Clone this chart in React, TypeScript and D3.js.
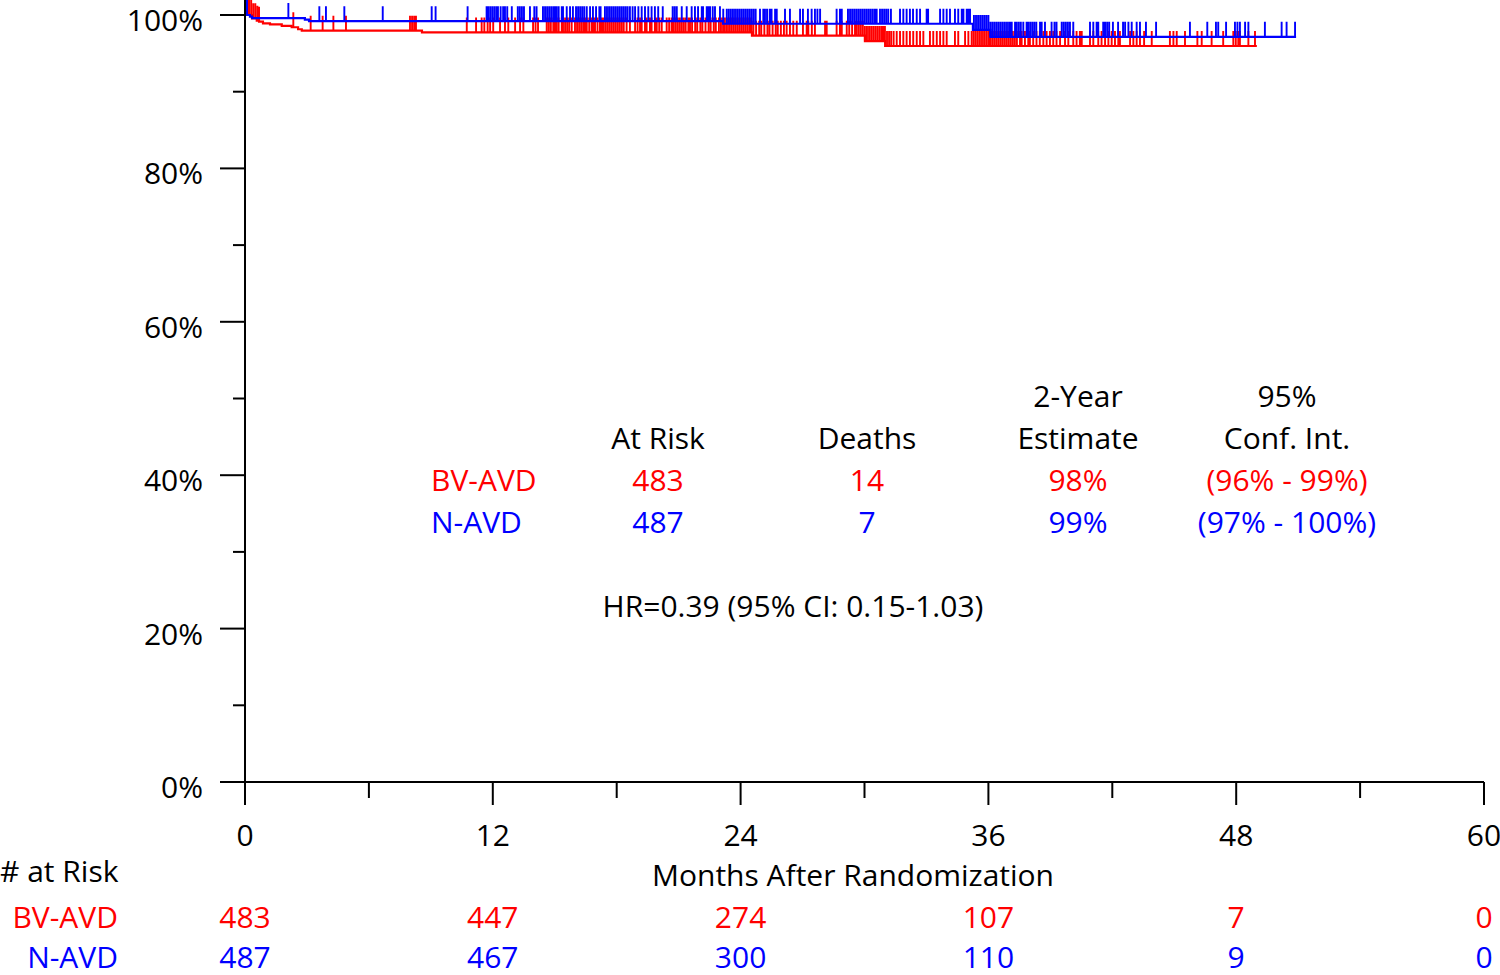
import React from "react";
import * as d3 from "d3";

// ---- Data ----
const redStepTimes = [0, 0.34, 0.57, 0.68, 0.87, 1.21, 1.78, 2.26, 2.57, 2.75, 8.57, 24.55, 30.02, 31.0];
const redStepSurv = [100, 99.57, 99.26, 99.13, 98.92, 98.79, 98.57, 98.4, 98.14, 97.95, 97.73, 97.3, 96.6, 95.96];
const redEnd = 49.0;
const blueStepTimes = [0, 0.24, 0.34, 2.9, 3.1, 23.15, 35.25, 36.1];
const blueStepSurv = [100, 99.8, 99.6, 99.4, 99.2, 98.86, 98.05, 97.15];
const blueEnd = 50.9;

const redCensor = [
  0.05, 0.12, 0.2, 0.3, 0.4, 0.5, 0.6, 0.68, 2.34, 3.18, 3.76, 4.28, 4.89,
  7.99, 8.09, 8.19, 8.28, 10.74, 11.19, 11.46, 11.59, 11.75, 11.87, 12.02, 12.35, 12.59, 12.75,
  13.08, 13.32, 13.48, 13.95, 14.07, 14.19,
  14.61, 14.71, 14.81, 14.93, 15.01, 15.09, 15.19, 15.34, 15.4, 15.5, 15.6, 15.7, 15.82,
  15.98, 16.08, 16.18, 16.28, 16.38, 16.46, 16.55, 16.67, 16.79, 16.87, 16.95, 17.07, 17.19, 17.27,
  17.34, 17.44, 17.54, 17.64, 17.74, 17.84, 17.94, 18.04, 18.14, 18.24, 18.34, 18.48, 18.64,
  18.89, 19.01, 19.13, 19.21, 19.37, 19.45, 19.61, 19.69, 19.85, 19.94, 20.06, 20.18,
  20.42, 20.54, 20.66, 20.74, 20.84, 20.94, 21.04, 21.14, 21.24, 21.34, 21.47,
  21.55, 21.65, 21.8, 21.9, 22.05, 22.15, 22.3, 22.45, 22.55, 22.7, 22.8, 22.95, 23.05, 23.15,
  23.24, 23.34, 23.44, 23.54, 23.64, 23.74, 23.84, 23.94, 24.04, 24.14, 24.24, 24.34, 24.44, 24.52,
  24.62, 24.75, 24.9, 25.0, 25.15, 25.3, 25.4, 25.55, 25.7, 25.8, 25.95, 26.1, 26.23,
  26.39, 26.55, 26.72, 27.02, 27.2, 27.28, 27.45, 27.6, 28.09, 28.17, 28.65, 28.81, 28.9,
  29.14, 29.26, 29.4, 29.54, 29.62, 29.72, 29.82, 29.92, 30.02, 30.12, 30.22, 30.32, 30.42, 30.52,
  30.62, 30.72, 30.82, 30.91, 30.99, 31.09, 31.19, 31.29, 31.41, 31.56, 31.72, 31.88, 32.04, 32.2,
  32.36, 32.53, 32.69, 32.85, 33.17, 33.33, 33.5, 33.66, 33.82, 33.98, 34.38, 34.54, 34.87, 35.03,
  35.19, 35.29, 35.39, 35.49, 35.59, 35.69, 35.79, 35.89, 35.99, 36.08,
  36.18, 36.28, 36.38, 36.48, 36.58, 36.68, 36.78, 36.88, 36.98, 37.08, 37.18, 37.28, 37.38, 37.53,
  37.61, 37.77, 37.93, 38.01, 38.17, 38.33, 38.49, 38.66, 38.82, 38.98, 39.14, 39.3, 39.47,
  39.71, 39.87, 40.11, 40.27, 40.43, 40.52, 40.92, 41.08, 41.32, 41.48, 41.65, 41.81,
  41.97, 42.13, 42.29, 42.37, 42.86, 43.02, 43.18, 43.34,
  43.54, 43.91, 44.79, 44.96, 45.12, 45.52, 46.12, 46.33, 46.81, 47.37, 47.86, 47.98, 48.1, 48.18,
  48.59, 48.91,
];

const blueCensor = [
  0.02, 0.06, 0.1, 2.1, 3.6, 3.92, 4.81, 6.67, 9.04, 9.23, 10.78, 11.7,
  11.77, 11.87, 11.97, 12.07, 12.17, 12.25, 12.38, 12.5, 12.59, 12.7, 12.92,
  13.21, 13.31, 13.41, 13.51, 13.8, 14.01, 14.12,
  14.43, 14.53, 14.63, 14.73, 14.83, 14.93, 15.01, 15.09, 15.19, 15.34, 15.4, 15.58, 15.74, 15.88,
  16.03, 16.13, 16.23, 16.33, 16.43, 16.55, 16.71, 16.85, 17.0, 17.16, 17.22,
  17.43, 17.53, 17.63, 17.73, 17.83, 17.93, 18.03, 18.13, 18.23, 18.33, 18.43, 18.53, 18.64,
  18.77, 18.89, 19.05, 19.21, 19.37, 19.53, 19.69, 19.85, 20.01, 20.23, 20.71, 20.81, 20.91,
  21.15, 21.39, 21.63, 21.79, 21.94, 22.12, 22.18, 22.36, 22.44, 22.52, 22.65, 22.76, 23.0, 23.16,
  23.33, 23.43, 23.53, 23.63, 23.73, 23.83, 23.93, 24.03, 24.13, 24.23, 24.33, 24.43, 24.53, 24.63, 24.73,
  24.94, 25.1, 25.18, 25.28, 25.41, 25.5, 25.67, 25.75, 26.15, 26.39, 26.88, 27.02, 27.26, 27.44,
  27.6, 27.72, 27.85, 28.65, 28.81, 28.9,
  29.2, 29.3, 29.4, 29.5, 29.6, 29.7, 29.8, 29.9, 30.0, 30.1, 30.2, 30.3, 30.4, 30.5, 30.59,
  30.75, 30.85, 30.95, 31.05, 31.15, 31.28, 31.72, 31.88, 32.04, 32.2, 32.35, 32.53, 32.69,
  33.01, 33.08, 33.66, 33.82, 33.98, 34.14, 34.38, 34.54, 34.71, 34.79, 34.95, 35.03, 35.11,
  35.3, 35.4, 35.5, 35.6, 35.7, 35.8, 35.9, 36.0,
  36.1, 36.2, 36.3, 36.4, 36.5, 36.6, 36.7, 36.8, 36.9, 37.0, 37.05, 37.13, 37.29,
  37.37, 37.47, 37.57, 37.69, 37.85, 37.92, 38.02, 38.12, 38.22, 38.32, 38.5, 38.58, 38.74,
  39.06, 39.2, 39.3, 39.55, 39.65, 39.75, 39.85, 39.95, 40.11, 40.92, 41.08, 41.24, 41.32, 41.56,
  41.65, 41.75, 41.85, 42.03, 42.28, 42.52, 42.62, 42.78, 42.94, 43.18, 43.34,
  43.63, 44.12, 45.76, 46.6, 47.02, 47.13, 47.51, 47.94, 48.06, 48.18, 48.43, 48.59,
  49.39, 50.2, 50.44, 50.85,
];

const xMajorTicks = [0, 12, 24, 36, 48, 60];
const xMinorTicks = [6, 18, 30, 42, 54];
const yMajorTicks = [0, 20, 40, 60, 80, 100];
const yMinorTicks = [10, 30, 50, 70, 90];

const groups = ["BV-AVD", "N-AVD"];
const groupColors = ["#ff0000", "#0000ff"];
const atRiskRed = [483, 447, 274, 107, 7, 0];
const atRiskBlue = [487, 467, 300, 110, 9, 0];

const tableHeader1 = ["", "", "2-Year", "95%"];
const tableHeader2 = ["At Risk", "Deaths", "Estimate", "Conf. Int."];
const tableRed = ["483", "14", "98%", "(96% - 99%)"];
const tableBlue = ["487", "7", "99%", "(97% - 100%)"];
const hrText = "HR=0.39 (95% CI: 0.15-1.03)";

const FONT = "'Open Sans', 'Noto Sans', sans-serif";

export default function App() {
  const x = d3.scaleLinear().domain([0, 60]).range([245, 1484]);
  const y = d3.scaleLinear().domain([0, 100]).range([782, 15]);

  const survAt = (times: number[], surv: number[], t: number) => {
    const i = d3.bisectRight(times, t) - 1;
    return surv[Math.max(0, i)];
  };

  const stepPath = (times: number[], surv: number[], end: number) => {
    const pts: [number, number][] = times.map((t, i) => [t, surv[i]]);
    pts.push([end, surv[surv.length - 1]]);
    return d3
      .line<[number, number]>()
      .x((d) => x(d[0]))
      .y((d) => y(d[1]))
      .curve(d3.curveStepAfter)(pts) as string;
  };

  const censorPath = (times: number[], surv: number[], cens: number[]) =>
    cens
      .map((t) => {
        const cx = x(t);
        const cy = y(survAt(times, surv, t));
        return `M${cx.toFixed(2)},${cy.toFixed(2)}V${(cy - 15).toFixed(2)}`;
      })
      .join("");

  const colX = [658, 867, 1078, 1287];
  const fs = 30;

  return (
    <svg
      width={1500}
      height={975}
      style={{ position: "absolute", left: 0, top: 0, background: "#fff" }}
      fontFamily={FONT}
    >
      {/* curves */}
      <g fill="none">
        <path d={censorPath(redStepTimes, redStepSurv, redCensor)} stroke={groupColors[0]} strokeWidth={1.9} />
        <path d={stepPath(redStepTimes, redStepSurv, redEnd)} stroke={groupColors[0]} strokeWidth={2.2} />
        <path d={censorPath(blueStepTimes, blueStepSurv, blueCensor)} stroke={groupColors[1]} strokeWidth={1.9} />
        <path d={stepPath(blueStepTimes, blueStepSurv, blueEnd)} stroke={groupColors[1]} strokeWidth={2.2} />
      </g>

      {/* axes */}
      <g stroke="#000" strokeWidth={2}>
        <line x1={x(0)} x2={x(0)} y1={0} y2={805} />
        <line x1={220} x2={x(60)} y1={y(0)} y2={y(0)} />
        {yMajorTicks.map((v) => (
          <line key={"ym" + v} x1={220} x2={x(0)} y1={y(v)} y2={y(v)} />
        ))}
        {yMinorTicks.map((v) => (
          <line key={"yn" + v} x1={233} x2={x(0)} y1={y(v)} y2={y(v)} />
        ))}
        {xMajorTicks.map((v) => (
          <line key={"xm" + v} x1={x(v)} x2={x(v)} y1={y(0)} y2={805} />
        ))}
        {xMinorTicks.map((v) => (
          <line key={"xn" + v} x1={x(v)} x2={x(v)} y1={y(0)} y2={798} />
        ))}
      </g>

      {/* axis labels */}
      <g fontSize={fs} fill="#000">
        {yMajorTicks.map((v) => (
          <text key={"yl" + v} x={203} y={y(v) + 16} textAnchor="end">
            {v + "%"}
          </text>
        ))}
        {xMajorTicks.map((v) => (
          <text key={"xl" + v} x={x(v)} y={846} textAnchor="middle">
            {v}
          </text>
        ))}
        <text x={853} y={886} textAnchor="middle">Months After Randomization</text>
        <text x={0} y={882}>{"# at Risk"}</text>
      </g>

      {/* at-risk rows */}
      <g fontSize={fs}>
        <text x={118} y={928} textAnchor="end" fill={groupColors[0]}>{groups[0]}</text>
        <text x={118} y={968} textAnchor="end" fill={groupColors[1]}>{groups[1]}</text>
        {atRiskRed.map((v, i) => (
          <text key={"ar" + i} x={x(xMajorTicks[i])} y={928} textAnchor="middle" fill={groupColors[0]}>{v}</text>
        ))}
        {atRiskBlue.map((v, i) => (
          <text key={"ab" + i} x={x(xMajorTicks[i])} y={968} textAnchor="middle" fill={groupColors[1]}>{v}</text>
        ))}
      </g>

      {/* in-plot table */}
      <g fontSize={fs} textAnchor="middle">
        {tableHeader1.map((t, i) => (
          <text key={"h1" + i} x={colX[i]} y={407} fill="#000">{t}</text>
        ))}
        {tableHeader2.map((t, i) => (
          <text key={"h2" + i} x={colX[i]} y={449} fill="#000">{t}</text>
        ))}
        <text x={431} y={491} textAnchor="start" fill={groupColors[0]}>{groups[0]}</text>
        <text x={431} y={533} textAnchor="start" fill={groupColors[1]}>{groups[1]}</text>
        {tableRed.map((t, i) => (
          <text key={"tr" + i} x={colX[i]} y={491} fill={groupColors[0]}>{t}</text>
        ))}
        {tableBlue.map((t, i) => (
          <text key={"tb" + i} x={colX[i]} y={533} fill={groupColors[1]}>{t}</text>
        ))}
        <text x={793} y={617} fill="#000">{hrText}</text>
      </g>
    </svg>
  );
}
